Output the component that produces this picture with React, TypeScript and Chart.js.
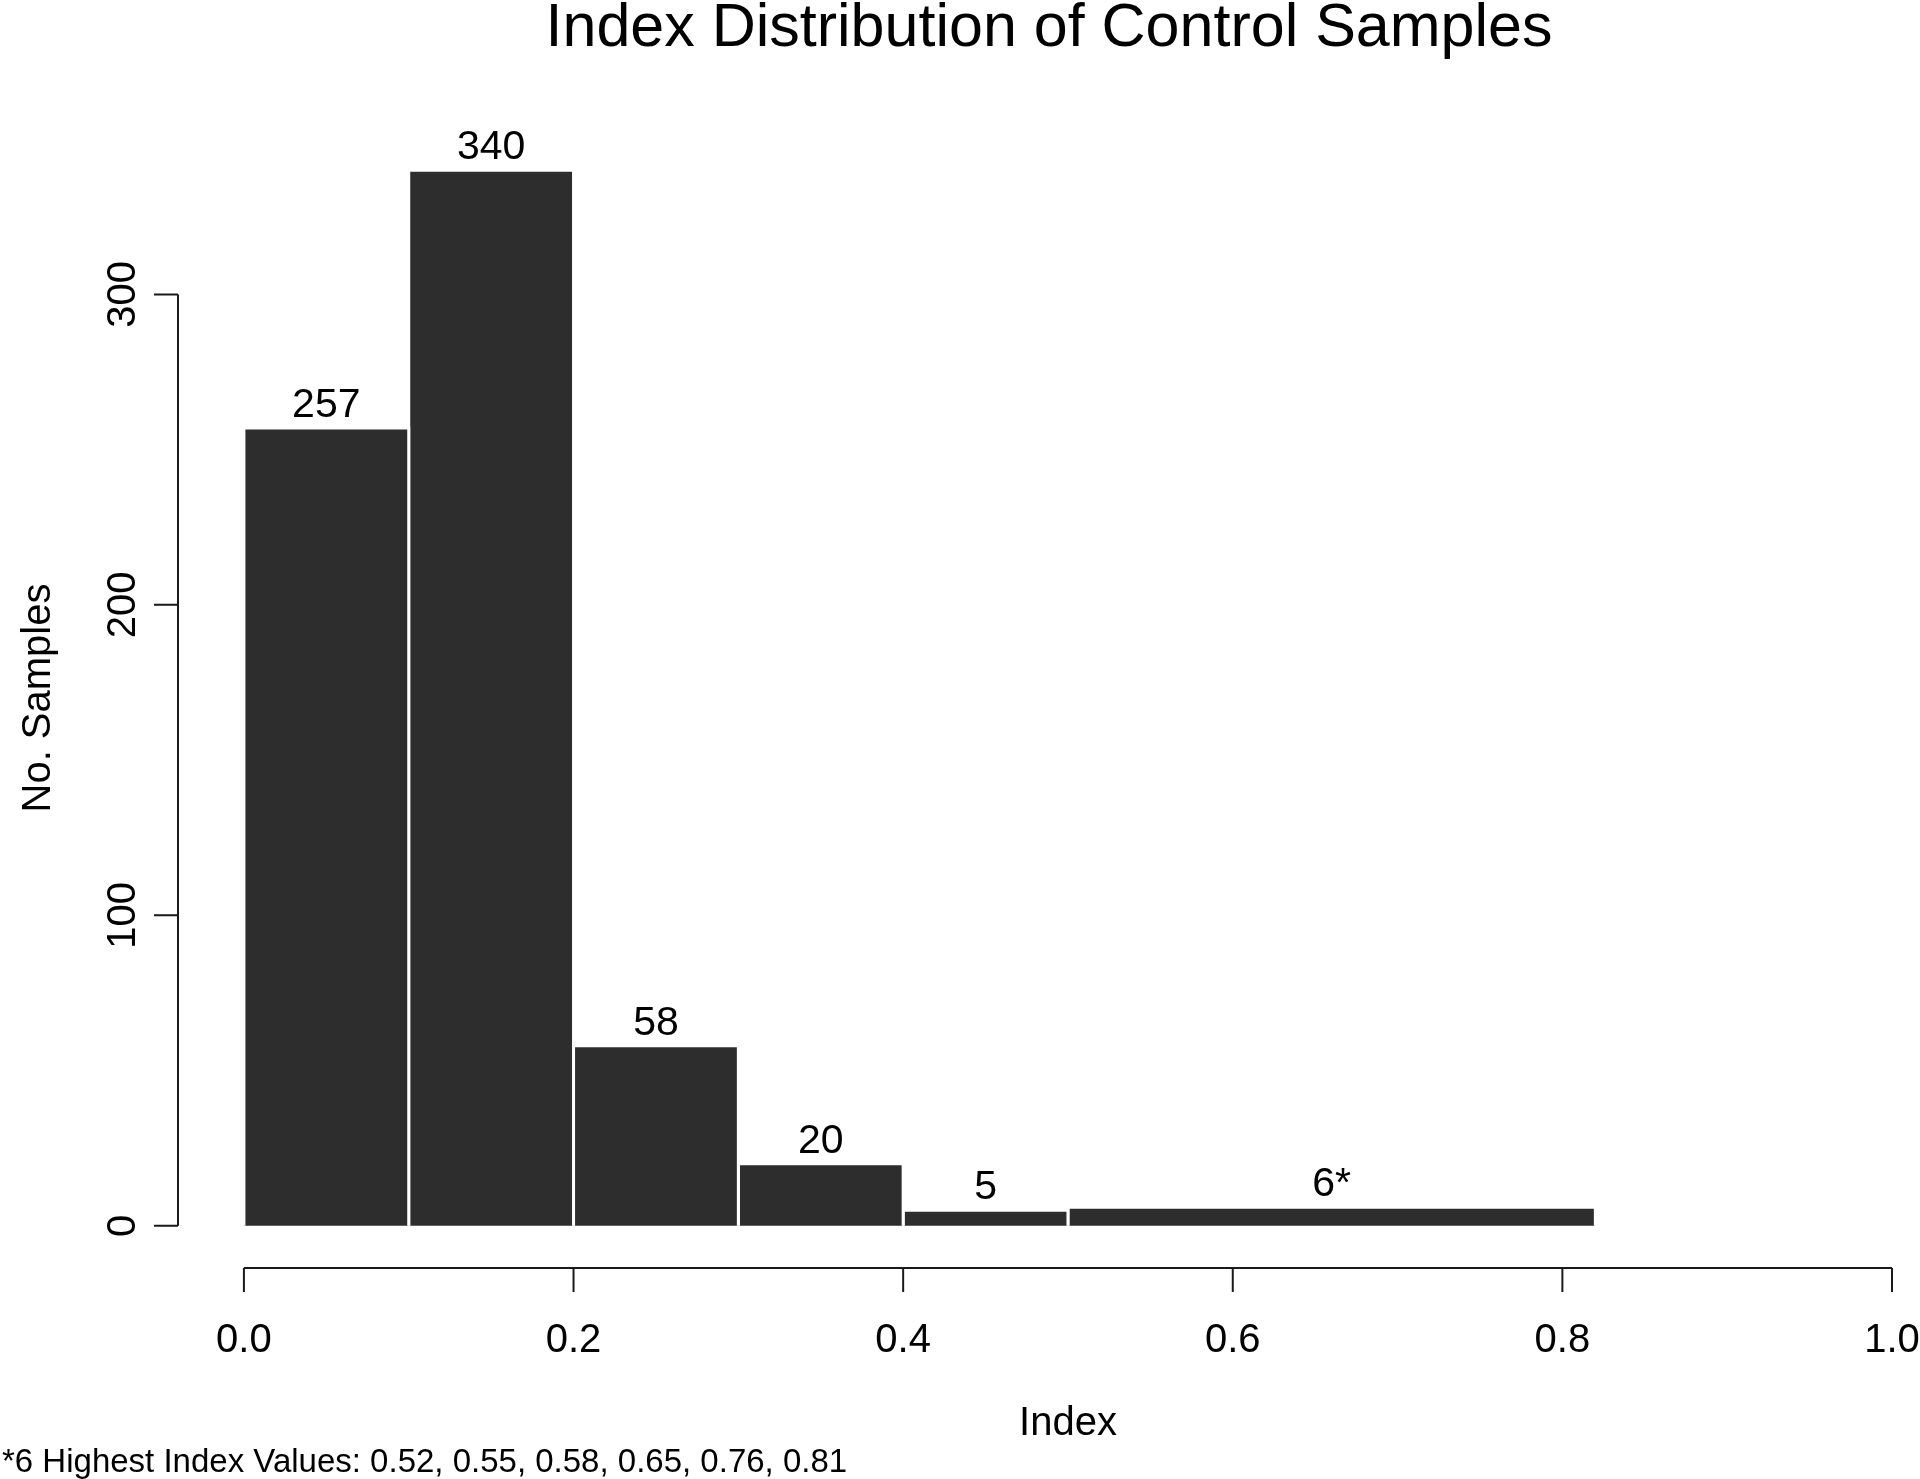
import React, { useEffect, useRef } from "react";
import { Chart, registerables } from "chart.js";

Chart.register(...registerables);

const binEdges = [0, 0.1, 0.2, 0.3, 0.4, 0.5, 0.82];
const counts = [257, 340, 58, 20, 5, 6];
const barLabels = ["257", "340", "58", "20", "5", "6*"];
const xTicks = [0, 0.2, 0.4, 0.6, 0.8, 1.0];
const xTickLabels = ["0.0", "0.2", "0.4", "0.6", "0.8", "1.0"];
const yTicks = [0, 100, 200, 300];
const yTickLabels = ["0", "100", "200", "300"];
const titleText = "Index Distribution of Control Samples";
const xTitle = "Index";
const yTitle = "No. Samples";
const footnote = "*6 Highest Index Values: 0.52, 0.55, 0.58, 0.65, 0.76, 0.81";

const FONT = '"Liberation Sans", Arial, Helvetica, sans-serif';
const BAR_COLOR = "#2d2d2d";
const AXIS_COLOR = "#1a1a1a";

const rPlot = {
  id: "rPlot",
  afterDraw(chart: any) {
    const ctx = chart.ctx as CanvasRenderingContext2D;
    const xs = chart.scales.x;
    const ys = chart.scales.y;
    const area = chart.chartArea;
    ctx.save();
    ctx.strokeStyle = AXIS_COLOR;
    ctx.fillStyle = "#000";
    ctx.lineWidth = 2;
    const tick = 24;

    // y axis
    const ax = area.left;
    ctx.beginPath();
    ctx.moveTo(ax, ys.getPixelForValue(yTicks[0]));
    ctx.lineTo(ax, ys.getPixelForValue(yTicks[yTicks.length - 1]));
    yTicks.forEach((v) => {
      const py = ys.getPixelForValue(v);
      ctx.moveTo(ax, py);
      ctx.lineTo(ax - tick, py);
    });
    ctx.stroke();

    // x axis
    const ay = area.bottom;
    ctx.beginPath();
    ctx.moveTo(xs.getPixelForValue(xTicks[0]), ay);
    ctx.lineTo(xs.getPixelForValue(xTicks[xTicks.length - 1]), ay);
    xTicks.forEach((v) => {
      const px = xs.getPixelForValue(v);
      ctx.moveTo(px, ay);
      ctx.lineTo(px, ay + tick);
    });
    ctx.stroke();

    // tick labels
    ctx.font = `40px ${FONT}`;
    ctx.textAlign = "center";
    ctx.textBaseline = "alphabetic";
    xTicks.forEach((v, i) => {
      ctx.fillText(xTickLabels[i], xs.getPixelForValue(v), 1352);
    });
    yTicks.forEach((v, i) => {
      ctx.save();
      ctx.translate(135, ys.getPixelForValue(v));
      ctx.rotate(-Math.PI / 2);
      ctx.fillText(yTickLabels[i], 0, 0);
      ctx.restore();
    });

    // bar labels
    ctx.font = `41px ${FONT}`;
    counts.forEach((c, i) => {
      const mid = (binEdges[i] + binEdges[i + 1]) / 2;
      ctx.fillText(barLabels[i], xs.getPixelForValue(mid), ys.getPixelForValue(c) - 11);
    });

    // axis titles
    ctx.font = `40px ${FONT}`;
    const plotMidX = (xs.getPixelForValue(xTicks[0]) + xs.getPixelForValue(xTicks[xTicks.length - 1])) / 2;
    ctx.fillText(xTitle, plotMidX, 1435);
    ctx.save();
    ctx.translate(50, (area.top + area.bottom) / 2);
    ctx.rotate(-Math.PI / 2);
    ctx.fillText(yTitle, 0, 0);
    ctx.restore();

    // main title
    ctx.font = `61px ${FONT}`;
    ctx.fillText(titleText, 1049, 46);

    // footnote
    ctx.font = `33px ${FONT}`;
    ctx.textAlign = "left";
    ctx.fillText(footnote, 2, 1472);

    ctx.restore();
  },
};

export default function App() {
  const canvasRef = useRef<HTMLCanvasElement | null>(null);

  useEffect(() => {
    if (!canvasRef.current) return;
    const datasets = counts.map((c, i) => ({
      label: barLabels[i],
      data: [
        { x: binEdges[i], y: 0 },
        { x: binEdges[i], y: c },
        { x: binEdges[i + 1], y: c },
        { x: binEdges[i + 1], y: 0 },
      ],
      showLine: true,
      fill: "origin",
      backgroundColor: BAR_COLOR,
      borderColor: "#ffffff",
      borderWidth: 3,
      pointRadius: 0,
      pointHoverRadius: 0,
      tension: 0,
    }));
    const chart = new Chart(canvasRef.current, {
      type: "scatter",
      data: { datasets: datasets as any },
      options: {
        responsive: false,
        animation: false,
        devicePixelRatio: 1,
        layout: { padding: { left: 178, right: 28, top: 128, bottom: 211 } },
        plugins: {
          legend: { display: false },
          tooltip: { enabled: false },
          title: { display: false },
        },
        scales: {
          x: { type: "linear", min: -0.04, max: 1.0, display: false },
          y: { type: "linear", min: -13.6, max: 353.6, display: false },
        },
      },
      plugins: [rPlot],
    });
    return () => chart.destroy();
  }, []);

  return (
    <div style={{ position: "absolute", left: 0, top: 0, width: 1920, height: 1479, background: "#fff" }}>
      <canvas ref={canvasRef} width={1920} height={1479} style={{ display: "block" }} />
    </div>
  );
}
